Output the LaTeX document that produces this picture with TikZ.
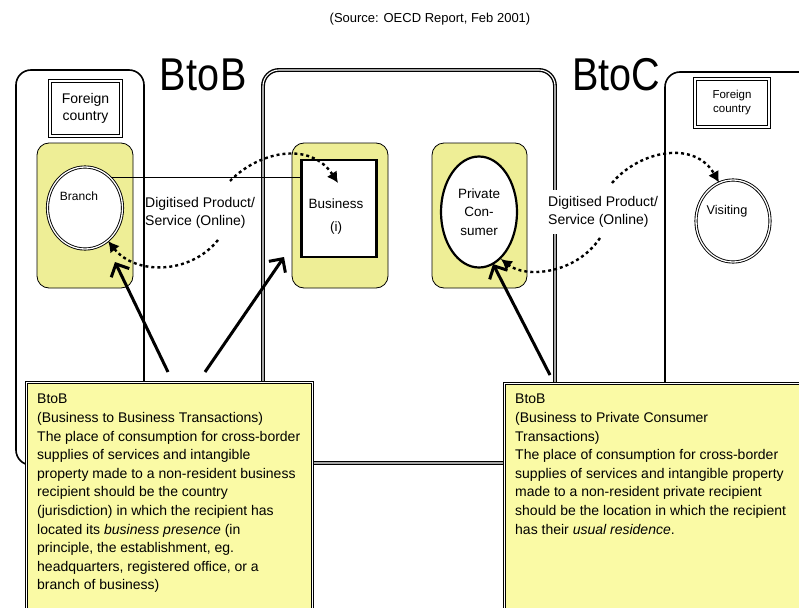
\documentclass[tikz,border=0pt]{standalone}
\usepackage{fontspec}
\setmainfont{Liberation Sans}
\newfontfamily\narrowsans[FakeStretch=0.86]{Liberation Sans}
\usepackage{xcolor}
\usepackage{tikz}
\usetikzlibrary{arrows.meta, shapes.geometric, positioning}

\definecolor{padyellow}{RGB}{238,238,150}
\definecolor{noteyellow}{RGB}{250,250,165}
\newcommand{\fs}[2]{\fontsize{#1}{#2}\selectfont}

\begin{document}
\begin{tikzpicture}[x=1pt, y=-1pt,
    region/.style={draw, line width=1.6pt, rounded corners=15pt},
    hostbox/.style={draw, double, line width=1.4pt, double distance=1.1pt, rounded corners=16pt},
    flag/.style={draw, double, line width=1pt, double distance=1.3pt, fill=white, align=center},
    pad/.style={draw, fill=padyellow, line width=0.8pt, rounded corners=12pt, minimum width=96pt, minimum height=145pt},
    flow/.style={line width=2.4pt, dash pattern=on 3pt off 3pt, -{Latex[length=11pt,width=12pt]}},
    pointer/.style={line width=3pt, -{Straight Barb[length=10pt,width=20pt]}},
    notebox/.style={draw, double, line width=1.2pt, double distance=1.1pt, fill=noteyellow, anchor=north west},
    notetext/.style={anchor=north west, align=left, font=\fs{14}{18.6}},
  ]
  \tikzstyle{every node}+=[inner sep=0pt]
  \useasboundingbox (0,0) rectangle (799,607);
  \clip (0,0) rectangle (799,607);
  \fill [white] (0,0) rectangle (799,607);

  % headings
  \node [font=\fs{13}{15}] (source) at (430,19) {(Source: OECD Report, Feb 2001)};
  \node [font=\narrowsans\fs{46}{50}, anchor=base] (btob) at (203.5,91) {Bto\kern2pt B};
  \node [font=\narrowsans\fs{46}{50}, anchor=base] (btoc) at (616,91) {BtoC};

  % countries
  \draw [region] (16,70) rectangle (144,465);
  \draw [hostbox] (263,70) rectangle (555,463);
  \draw [region] (665,72) rectangle (840,490);
  \node [flag, minimum width=71pt, minimum height=55pt, font=\fs{14}{17}] (flagL) at (85.5,108.5) {Foreign\\country};
  \node [flag, minimum width=74pt, minimum height=48pt, font=\fs{11.5}{14}] (flagR) at (732,103) {Foreign\\country};

  % parties
  \node [pad] (padL) at (85,215.5) {};
  \node [pad] (padM) at (340,215.5) {};
  \node [pad, minimum width=95pt] (padR) at (479.5,215.5) {};
  \node [ellipse, draw, double, line width=0.9pt, double distance=1.3pt, fill=white,
         minimum width=75pt, minimum height=82pt] (branch) at (85,208) {};
  \node [font=\fs{12}{14}] (branchtxt) at (79,196) {Branch};
  \node [draw, line width=2.6pt, fill=white, minimum width=75pt, minimum height=97pt] (biz) at (339,208.5) {};
  \node [align=center, font=\fs{13.5}{23}] (biztxt) at (336,217) {Business\\(i)};
  \node [ellipse, draw, line width=2.2pt, fill=white, minimum width=76pt, minimum height=111pt,
         align=center, font=\fs{13.5}{18.5}] (consumer) at (479,212) {Private\\Con-\\sumer};
  \node [ellipse, draw, double, line width=0.9pt, double distance=1.3pt, fill=white,
         minimum width=74pt, minimum height=82pt] (visit) at (733,221) {};
  \node [font=\fs{12.7}{15}] (visittxt) at (727,211) {Visiting};

  % online supply
  \node [anchor=north west, align=left, font=\fs{14}{18.5}] (digL) at (145,197) {Digitised Product/\\Service (Online)};
  \node [anchor=north west, align=left, font=\fs{14}{18.5}, fill=white, inner ysep=6pt, inner xsep=1pt] (digR) at (547,190) {Digitised Product/\\Service (Online)};
  \coordinate (digLup) at (230,181);
  \coordinate (digLdn) at (218,240);
  \coordinate (digRup) at (612,183);
  \coordinate (digRdn) at (600,238);
  \coordinate (bizin) at (338,183);

  \draw [black, line width=1.3pt] (branch.50) -- (biz.west |- branch.50);
  \draw [flow] (digLup) .. controls (258,152) and (310,140) .. (bizin);
  \draw [flow] (digLdn) .. controls (190,275) and (135,275) .. (branch.-55);
  \draw [flow] (digRup) .. controls (640,150) and (695,140) .. (visit.110);
  \draw [flow] (digRdn) .. controls (575,275) and (525,278) .. (consumer.-65);

  % notes
  \node [notebox, minimum width=286pt, minimum height=260pt] (noteL) at (26,382) {};
  \node [notebox, minimum width=330pt, minimum height=260pt] (noteR) at (504,383) {};
  \node [notetext] (textL) at (37,394) {BtoB\\
    (Business to Business Transactions)\\
    The place of consumption for cross-border\\
    supplies of services and intangible\\
    property made to a non-resident business\\
    recipient should be the country\\
    (jurisdiction) in which the recipient has\\
    located its \textit{business presence} (in\\
    principle, the establishment, eg.\\
    headquarters, registered office, or a\\
    branch of business)};
  \node [notetext] (textR) at (515,394) {BtoB\\
    (Business to Private Consumer\\
    Transactions)\\
    The place of consumption for cross-border\\
    supplies of services and intangible property\\
    made to a non-resident private recipient\\
    should be the location in which the recipient\\
    has their \textit{usual residence}.};

  \coordinate (tipA) at (115,262);
  \coordinate (tipB) at (284,257);
  \coordinate (tipC) at (493,264);
  \draw [pointer] ([xshift=142pt,yshift=10pt]noteL.north west) -- (tipA);
  \draw [pointer] ([xshift=179pt,yshift=10pt]noteL.north west) -- (tipB);
  \draw [pointer] ([xshift=46pt,yshift=8pt]noteR.north west) -- (tipC);
\end{tikzpicture}
\end{document}
